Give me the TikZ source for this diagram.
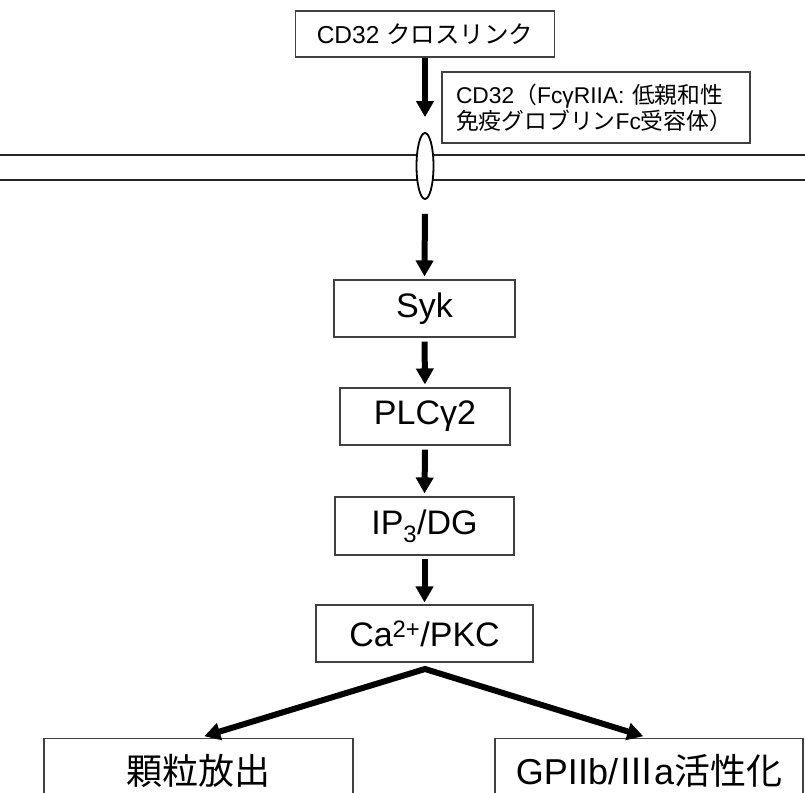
\documentclass[tikz,border=0pt]{standalone}
\usepackage{fontspec}
\setmainfont{Liberation Sans}
\newfontfamily\jp{Noto Sans CJK JP}
\usetikzlibrary{arrows.meta,shapes.geometric}
\tikzset{
  box/.style={draw=black!75, line width=1.1pt, fill=white, inner sep=0pt, align=center},
  arr/.style={line width=6pt, -{Triangle[width=17pt,length=16pt]}},
  mem/.style={line width=1.8pt, black!85},
  big/.style={font=\fontsize{34}{38}\selectfont},
}
\begin{document}
\begin{tikzpicture}[x=1pt,y=-1pt]
\useasboundingbox (0,0) rectangle (805,792);
% top box
\node[box, minimum width=259pt, minimum height=46pt, font=\fontsize{24.5}{28}\selectfont] (cross) at (425,34) {CD32 {\jp クロスリンク}};
% label box
\node[box, minimum width=308pt, minimum height=71pt, text width=280pt, inner xsep=14pt, align=left, font=\fontsize{22.8}{26}\selectfont] (lab) at (596,107.5) {CD32{\jp （}FcγRIIA: {\jp 低親和性}\\{\jp 免疫グロブリン}Fc{\jp 受容体）}};
% membrane
\coordinate (mL1) at (0,155); \coordinate (mR1) at (805,155);
\coordinate (mL2) at (0,180); \coordinate (mR2) at (805,180);
\draw[mem] (mL1) -- (mR1);
\draw[mem] (mL2) -- (mR2);
\node[draw=black, line width=1.8pt, fill=white, ellipse, minimum width=17pt, minimum height=66pt, inner sep=0pt] (rec) at (425,166) {};
% cascade
\node[box, big, minimum width=181pt, minimum height=57pt] (syk) at (424.5,308.5) {Syk};
\node[box, big, minimum width=170pt, minimum height=57pt] (plc) at (425,416.5) {PLCγ2};
\node[box, big, minimum width=179pt, minimum height=58pt] (ip3) at (424.5,526) {IP\textsubscript{3}/DG};
\node[box, big, minimum width=217pt, minimum height=57pt] (ca) at (424.5,633.5) {Ca\textsuperscript{2+}/PKC};
\node[box, minimum width=309pt, minimum height=70pt, anchor=north, font=\fontsize{36}{40}\selectfont, text depth=8pt] (gran) at (198.5,738) {\jp 顆粒放出};
\node[box, minimum width=308pt, minimum height=70pt, anchor=north, font=\fontsize{36}{40}\selectfont, text depth=8pt] (gp) at (649,738) {GPIIb/{\jp Ⅲ}a{\jp 活性化}};
% arrows
\draw[arr, shorten >=15pt] (cross.south) -- (rec.north);
\draw[arr, shorten <=14pt, shorten >=3pt] (rec.south) -- (syk.north);
\draw[arr, shorten <=4pt, shorten >=3pt] (syk.south) -- (plc.north);
\draw[arr, shorten <=4pt, shorten >=3pt] (plc.south) -- (ip3.north);
\draw[arr, shorten <=3pt, shorten >=2pt] (ip3.south) -- (ca.north);
\coordinate (fork) at (425,669);
\draw[line width=6pt, {Triangle[width=17pt,length=16pt]}-{Triangle[width=17pt,length=16pt]}, miter limit=20, shorten <=6pt, shorten >=6pt] (gran.north) -- (fork) -- (gp.north);
\end{tikzpicture}
\end{document}
